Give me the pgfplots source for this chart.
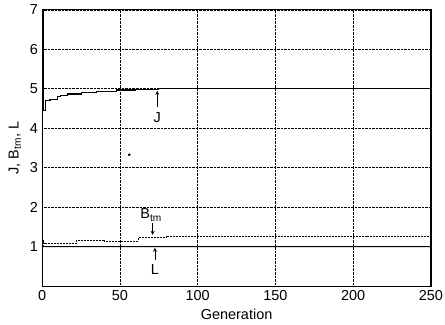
\documentclass[border=0pt]{standalone}
\usepackage{pgfplots}
\pgfplotsset{compat=1.18}
\usepackage{fontspec}
\setmainfont{Liberation Sans}
\begin{document}
\fontsize{14.5}{17}\selectfont
\begin{tikzpicture}
\begin{axis}[
  scale only axis, width=390pt, height=277pt,
  xmin=0, xmax=250, ymin=0, ymax=7,
  xtick={0,50,100,150,200,250}, ytick={1,2,3,4,5,6,7},
  grid=major, major grid style={black, densely dotted, line width=0.7pt},
  axis line style={line width=1.1pt},
  tick style={draw=none},
  /pgf/number format/assume math mode=true,
  xticklabel style={yshift=-2pt, inner sep=2pt},
  yticklabel style={xshift=-2pt, inner sep=2pt},
  xlabel={Generation}, ylabel={J, B$_{\mathrm{tm}}$, L},
  xlabel style={yshift=-2pt}, ylabel style={yshift=2pt},
  clip=false,
]
% J
\addplot[black, line width=1.1pt, const plot] coordinates {
(0,7) (0.6,6.5) (1,4.45) (2,4.7) (5,4.73) (9.6,4.8) (12,4.84) (16,4.87) (25,4.9) (35,4.93) (48,4.97) (60,4.98) (75,5.0) (250,5.0)};
% Btm
\addplot[black, dash pattern=on 2pt off 1pt, line width=0.7pt, const plot] coordinates {
(0,1.15) (1,1.08) (20,1.08) (22,1.17) (40,1.14) (60,1.14) (62,1.23) (80,1.27) (250,1.27)};
% L
\addplot[black, line width=1.1pt] coordinates {(0,1.05) (1,1.0) (250,1.0)};
% stray dot
\addplot[only marks, mark=*, mark size=1.1pt, black] coordinates {(56,3.33)};
% annotations
\draw[->, >=stealth, line width=0.8pt] (axis cs:74,4.55) -- (axis cs:74,4.95);
\node at (axis cs:74,4.28) {J};
\node at (axis cs:70,1.8) {B$_{\mathrm{tm}}$};
\draw[->, >=stealth, line width=0.8pt] (axis cs:71,1.6) -- (axis cs:71,1.3);
\draw[->, >=stealth, line width=0.8pt] (axis cs:72.5,0.65) -- (axis cs:72.5,0.97);
\node at (axis cs:72.5,0.42) {L};
\end{axis}
\path ([xshift=-4pt,yshift=3pt]current axis.outer north west);
\end{tikzpicture}
\end{document}
